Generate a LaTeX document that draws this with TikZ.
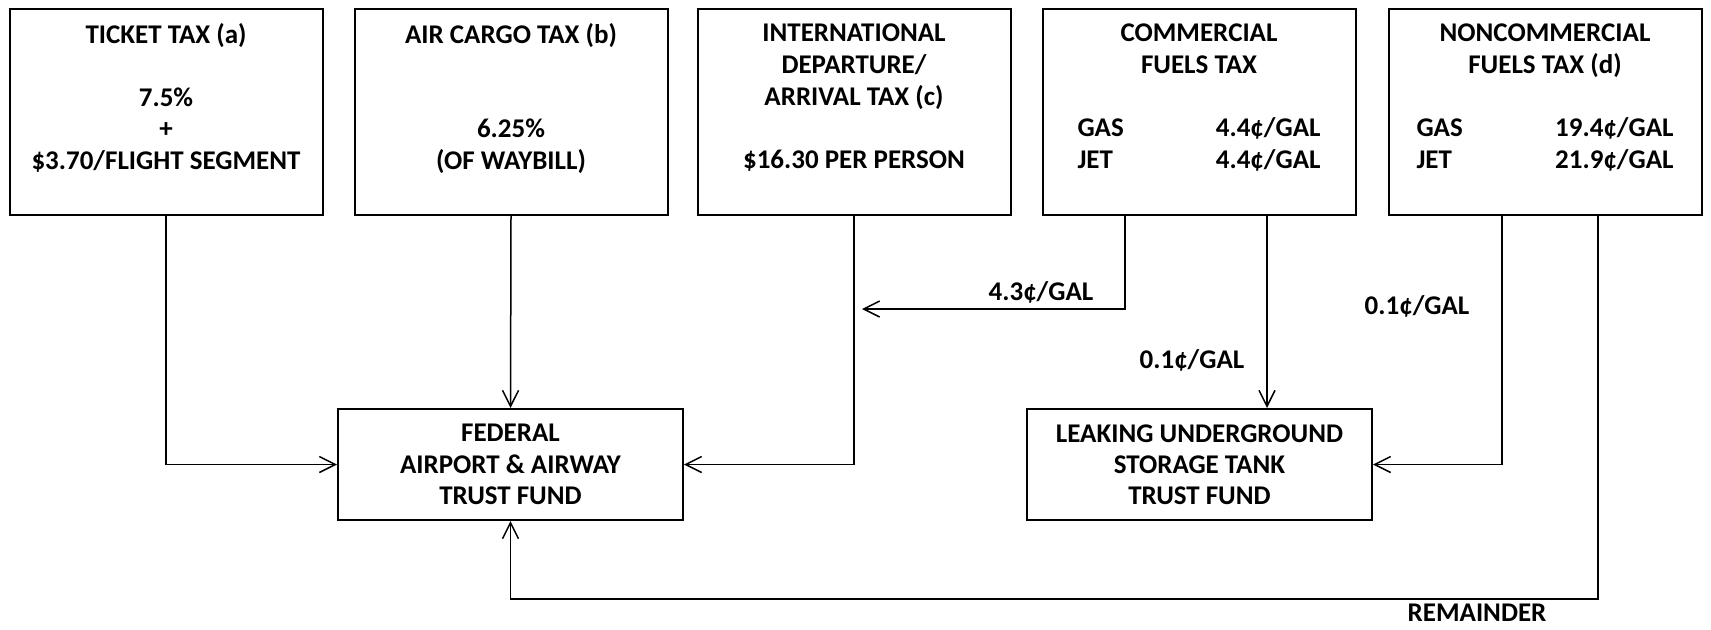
\documentclass[tikz,border=0pt]{standalone}
\usepackage{fontspec}
\setmainfont{Carlito}
\usetikzlibrary{arrows.meta,calc}
\begin{document}
\begin{tikzpicture}[x=0.5pt,y=-0.5pt,
  font=\fontsize{13.5}{15.8}\selectfont\bfseries,
  taxbox/.style={draw,line width=1pt,minimum width=156.5pt,minimum height=103pt,align=center,inner sep=0pt},
  fundbox/.style={draw,line width=1pt,minimum width=172.5pt,minimum height=55.5pt,align=center,inner sep=0pt,
    font=\fontsize{13.5}{15.6}\selectfont\bfseries},
  flow/.style={line width=0.75pt,-{Straight Barb[length=8pt,width=8pt]}}]
\useasboundingbox (0,0) rectangle (1711,629);
% taxes
\node[taxbox] (ticket) at (166,112) {TICKET TAX (a)\\\mbox{}\\7.5\%\\+\\\$3.70/FLIGHT SEGMENT\\\mbox{}};
\node[taxbox] (cargo) at (511,112) {AIR CARGO TAX (b)\\\mbox{}\\\mbox{}\\6.25\%\\(OF WAYBILL)\\\mbox{}};
\node[taxbox] (intl) at (854,112) {INTERNATIONAL\\DEPARTURE/\\ARRIVAL TAX (c)\\\mbox{}\\\$16.30 PER PERSON\\\mbox{}};
\node[taxbox] (comfuel) at (1199,112) {COMMERCIAL\\FUELS TAX\\\mbox{}\\\makebox[121.5pt]{GAS\hfill 4.4¢/GAL}\\\makebox[121.5pt]{JET\hfill 4.4¢/GAL}\\\mbox{}};
\node[taxbox] (ncfuel) at (1545,112) {NONCOMMERCIAL\\FUELS TAX (d)\\\mbox{}\\\makebox[128.5pt]{GAS\hfill 19.4¢/GAL}\\\makebox[128.5pt]{JET\hfill 21.9¢/GAL}\\\mbox{}};
% trust funds
\node[fundbox] (aatf) at (510.5,464.5) {FEDERAL\\AIRPORT \& AIRWAY\\TRUST FUND};
\node[fundbox] (lust) at (1199.5,464.5) {LEAKING UNDERGROUND\\STORAGE TANK\\TRUST FUND};
\coordinate (intake) at (862,309);
% flows
\draw[flow] (ticket.south) |- (aatf.west);
\draw[flow] (cargo.south) -- (aatf.north);
\draw[flow] (intl.south) |- (aatf.east);
\draw[flow] ($(comfuel.south)+(-74,0)$) |- (intake);
\draw[flow] ($(comfuel.south)+(68,0)$) -- ($(lust.north)+(67.5,0)$);
\draw[flow] ($(ncfuel.south)+(-43,0)$) |- (lust.east);
\draw[flow] ($(ncfuel.south)+(53,0)$) -- ++(0,383) -| (aatf.south);
% amounts
\node (lbl43) at (1041,292) {4.3¢/GAL};
\node (lblcom) at (1192,360) {0.1¢/GAL};
\node (lblnc) at (1417,306) {0.1¢/GAL};
\node[anchor=base,inner sep=0pt] (lblrem) at (1477,621) {REMAINDER};
\end{tikzpicture}
\end{document}
